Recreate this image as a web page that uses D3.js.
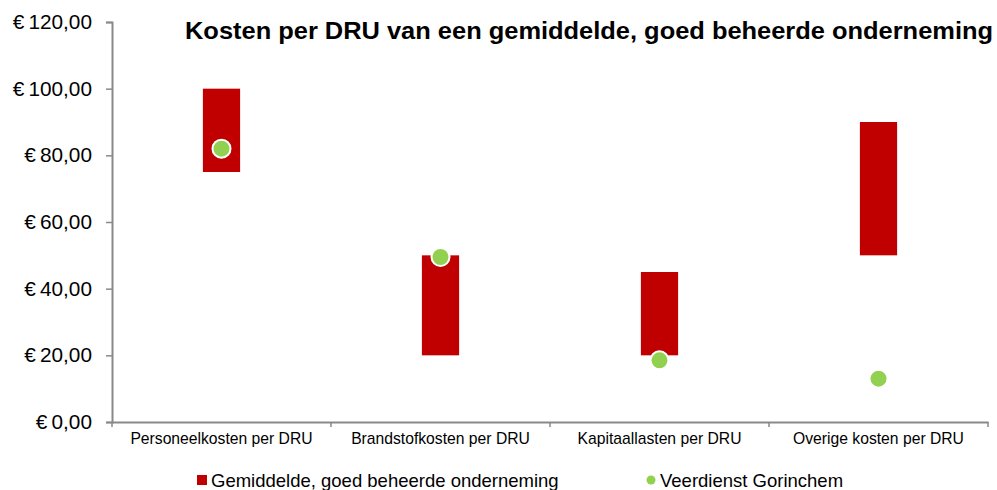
<!DOCTYPE html>
<html>
<head>
  <meta charset="utf-8">
  <title>Kosten per DRU</title>
  <script src="https://cdn.jsdelivr.net/npm/d3@7"></script>
  <style>
    body { margin: 0; background: #fff; }
    text { font-family: "Liberation Sans", Arial, sans-serif; fill: #000; }
  </style>
</head>
<body>
<svg id="chart"></svg>
<script>
  var categories = ["Personeelkosten per DRU", "Brandstofkosten per DRU", "Kapitaallasten per DRU", "Overige kosten per DRU"];
  var rangeLow = [75, 20, 20, 50];
  var rangeHigh = [100, 50, 45, 90];
  var gorinchem = [82, 49.5, 18.5, 13];
  var yTicks = [0, 20, 40, 60, 80, 100, 120];
  var legendLabels = ["Gemiddelde, goed beheerde onderneming", "Veerdienst Gorinchem"];

  var width = 997, height = 490;
  var margin = {left: 112, right: 9, top: 22, bottom: 68};

  var svg = d3.select("#chart").attr("width", width).attr("height", height);

  var x = d3.scaleBand().domain(categories).range([margin.left, width - margin.right]);
  var y = d3.scaleLinear().domain([0, 120]).range([height - margin.bottom, margin.top]);

  var fmt = function(v) { return "\u20AC\u2009" + d3.format(".2f")(v).replace(".", ","); };

  // y axis
  var yAxis = svg.append("g")
      .attr("transform", "translate(" + margin.left + ",0)")
      .call(d3.axisLeft(y).tickValues(yTicks).tickSize(6).tickPadding(14).tickFormat(fmt));
  yAxis.select(".domain").attr("stroke", "#898989").attr("stroke-width", 2);
  yAxis.selectAll(".tick line").attr("stroke", "#898989").attr("stroke-width", 1.5);
  yAxis.selectAll(".tick text").style("font-size", "20.8px").style("font-family", "Liberation Sans, Arial, sans-serif").attr("fill", "#000");

  // x axis
  var xAxis = svg.append("g")
      .attr("transform", "translate(0," + y(0) + ")")
      .call(d3.axisBottom(x).tickSize(0).tickPadding(11));
  xAxis.select(".domain").attr("stroke", "#898989").attr("stroke-width", 2);
  xAxis.selectAll(".tick text").style("font-size", "15.7px").style("font-family", "Liberation Sans, Arial, sans-serif").attr("fill", "#000");
  // category separators
  var bounds = categories.map(function(c) { return x(c); }).concat([x.range()[1]]);
  xAxis.selectAll(".sep").data(bounds).enter().append("line")
      .attr("x1", function(d) { return d; }).attr("x2", function(d) { return d; })
      .attr("y1", 0).attr("y2", 5)
      .attr("stroke", "#898989").attr("stroke-width", 1.5);

  // floating bars
  var barW = x.bandwidth() * 0.17;
  svg.append("g").selectAll("rect").data(categories).enter().append("rect")
      .attr("x", function(d) { return x(d) + x.bandwidth() / 2 - barW / 2; })
      .attr("width", barW)
      .attr("y", function(d, i) { return y(rangeHigh[i]); })
      .attr("height", function(d, i) { return y(rangeLow[i]) - y(rangeHigh[i]); })
      .attr("fill", "#c00000");

  // points
  svg.append("g").selectAll("circle").data(categories).enter().append("circle")
      .attr("cx", function(d) { return x(d) + x.bandwidth() / 2; })
      .attr("cy", function(d, i) { return y(gorinchem[i]); })
      .attr("r", 9)
      .attr("fill", "#92d050")
      .attr("stroke", "#fff")
      .attr("stroke-width", 2);

  // title
  svg.append("text")
      .attr("x", 993).attr("y", 39)
      .attr("text-anchor", "end")
      .attr("textLength", 808).attr("lengthAdjust", "spacingAndGlyphs")
      .style("font-size", "24px").style("font-weight", "bold")
      .text("Kosten per DRU van een gemiddelde, goed beheerde onderneming");

  // legend
  var lg = svg.append("g").attr("transform", "translate(0,481)");
  lg.append("rect").attr("x", 197).attr("y", -6).attr("width", 10).attr("height", 10).attr("fill", "#c00000");
  lg.append("text").attr("x", 211).attr("y", 0).attr("dy", "0.35em").style("font-size", "18.5px").text(legendLabels[0]);
  lg.append("circle").attr("cx", 651).attr("cy", -1).attr("r", 4.5).attr("fill", "#92d050");
  lg.append("text").attr("x", 660).attr("y", 0).attr("dy", "0.35em").style("font-size", "18.5px").text(legendLabels[1]);
</script>
</body>
</html>
